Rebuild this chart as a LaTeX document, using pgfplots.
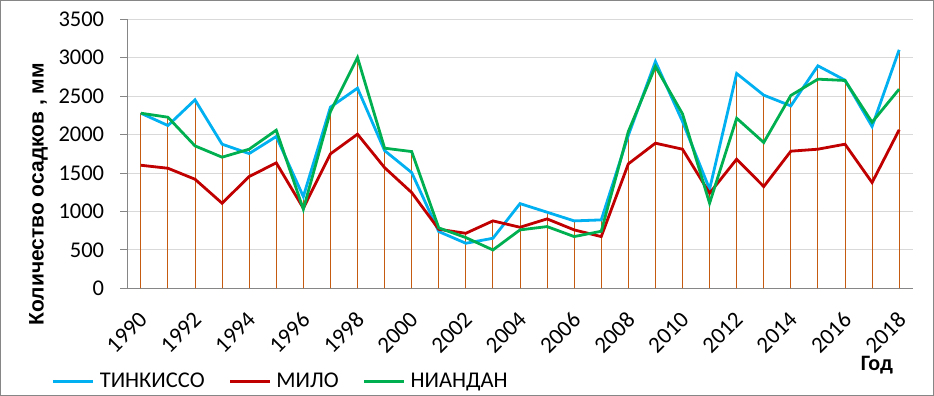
\documentclass[border=0pt]{standalone}
\usepackage{fontspec}
\setmainfont{Carlito}
\newfontfamily\arialfont{Liberation Sans}
\usepackage{pgfplots}
\pgfplotsset{compat=1.18}
\usepackage{pgfplotstable}
\definecolor{cT}{HTML}{00B0F0}
\definecolor{cM}{HTML}{C00000}
\definecolor{cN}{HTML}{00B050}
\definecolor{cDrop}{HTML}{C55A11}
\definecolor{cGrid}{HTML}{D9D9D9}
\definecolor{cAxis}{HTML}{868686}
\newcommand{\tfont}{\fontsize{22.5bp}{27bp}\selectfont}
\newcommand{\xfont}{\fontsize{23bp}{27bp}\selectfont}
\newcommand{\lfont}{\arialfont\fontsize{21bp}{25bp}\selectfont\bfseries}
\pgfplotstableread{
year T M N
1990 2278 1601 2278
1991 2118 1562 2226
1992 2452 1419 1853
1993 1875 1107 1706
1994 1753 1454 1810
1995 1975 1632 2057
1996 1193 1042 1029
1997 2357 1749 2300
1998 2604 2005 3003
1999 1792 1570 1823
2000 1506 1246 1779
2001 738 768 786
2002 586 716 660
2003 651 877 499
2004 1102 794 760
2005 990 903 803
2006 877 760 673
2007 890 673 742
2008 1990 1619 2040
2009 2951 1888 2886
2010 2170 1810 2270
2011 1289 1237 1107
2012 2795 1680 2213
2013 2513 1324 1897
2014 2374 1784 2509
2015 2895 1810 2721
2016 2708 1875 2704
2017 2105 1376 2161
2018 3103 2062 2591
}\data
\begin{document}
\begin{tikzpicture}
\draw[cAxis, line width=1bp] (0.5bp,0.5bp) rectangle (933.5bp,395.5bp);
\begin{axis}[
  at={(127.3bp,107.7bp)}, anchor=south west,
  scale only axis, width=785.4bp, height=269bp,
  xmin=1989.5, xmax=2018.5, ymin=0, ymax=3500,
  axis lines*=left,
  axis line style={cAxis, line width=1bp},
  xtick={1990,1992,...,2018},
  ytick={0,500,...,3500},
  xtick style={draw=none},
  ytick style={draw=cAxis, line width=1bp},
  tick align=outside,
  major tick length=7bp,
  ymajorgrids, grid style={cGrid, line width=1bp},
  /pgf/number format/assume math mode=true,
  /pgf/number format/1000 sep={},
  ticklabel style={font=\tfont, inner sep=0pt},
  yticklabel style={xshift=-16bp},
  xticklabel style={font=\xfont, anchor=north east, xshift=-3bp, yshift=-15bp, rotate=45},
  ylabel={Количество осадков , мм},
  ylabel style={font=\lfont, at={(axis description cs:-0.113,0.35)}, anchor=center},
  xlabel={Год},
  xlabel style={font=\fontsize{22bp}{26bp}\selectfont\bfseries, at={(axis description cs:0.9545,-0.286)}, anchor=center},
  legend style={at={(axis description cs:-0.0961,-0.345)}, anchor=west, draw=none, fill=none,
    inner sep=0pt, font=\tfont, nodes={inner sep=0pt},
    /tikz/every odd column/.append style={column sep=5bp},
    /tikz/every even column/.append style={column sep=24bp}},
  legend columns=3,
  legend cell align=left,
  legend image code/.code={\draw[#1] (0bp,0bp) -- (40bp,0bp);},
]
\addplot[ycomb, cDrop, line width=1bp, forget plot] table[x=year,y=T]{\data};
\addplot[ycomb, cDrop, line width=1bp, forget plot] table[x=year,y=M]{\data};
\addplot[ycomb, cDrop, line width=1bp, forget plot] table[x=year,y=N]{\data};
\addplot[cT, line width=2.8bp] table[x=year,y=T]{\data};
\addplot[cM, line width=2.8bp] table[x=year,y=M]{\data};
\addplot[cN, line width=2.8bp] table[x=year,y=N]{\data};
\legend{ТИНКИССО,МИЛО,НИАНДАН}
\end{axis}
\end{tikzpicture}
\end{document}
